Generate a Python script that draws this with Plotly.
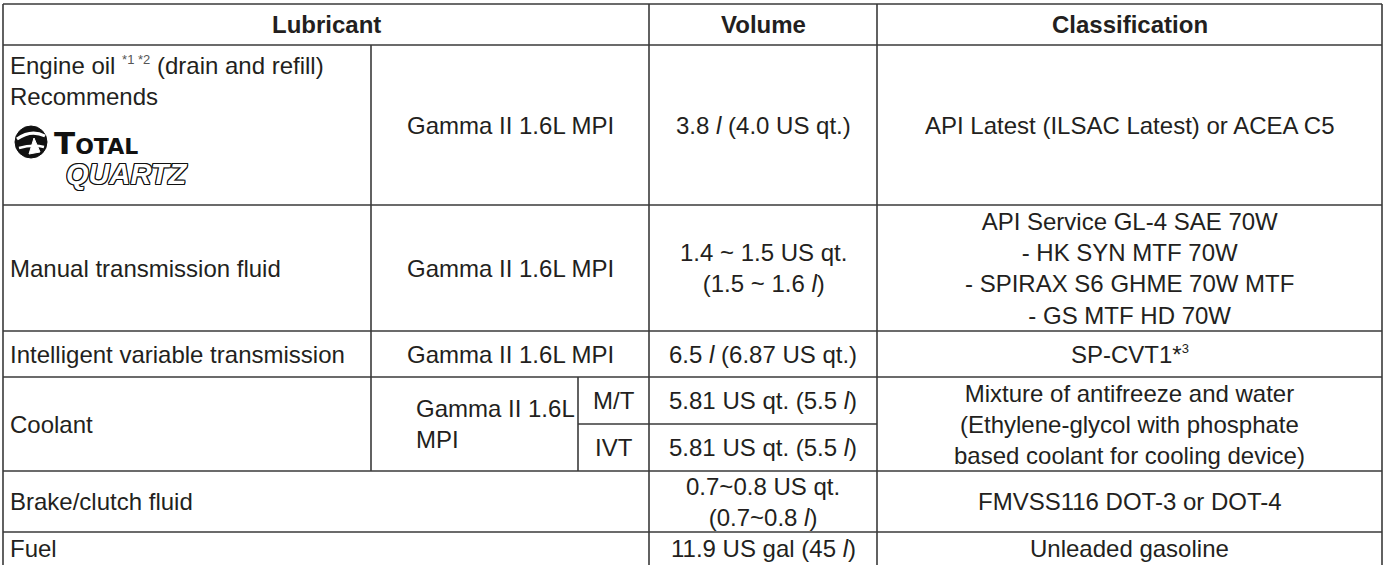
import plotly.graph_objects as go

# ---------------- data ----------------
headers = ["Lubricant", "Volume", "Classification"]
lubricants = [
    "Engine oil <sup><span style='font-size:13px;color:#555'>*1 *2</span></sup> (drain and refill)<br>Recommends",
    "Manual transmission fluid",
    "Intelligent variable transmission",
    "Coolant",
    "Brake/clutch fluid",
    "Fuel",
]
engines = ["Gamma II 1.6L MPI", "Gamma II 1.6L MPI", "Gamma II 1.6L MPI", "Gamma II 1.6L<br>MPI"]
coolant_transmissions = ["M/T", "IVT"]
volumes = [
    "3.8 <i>l</i> (4.0 US qt.)",
    "1.4 ~ 1.5 US qt.<br>(1.5 ~ 1.6 <i>l</i>)",
    "6.5 <i>l</i> (6.87 US qt.)",
    "0.7~0.8 US qt.<br>(0.7~0.8 <i>l</i>)",
    "11.9 US gal (45 <i>l</i>)",
]
coolant_volumes = ["5.81 US qt. (5.5 <i>l</i>)", "5.81 US qt. (5.5 <i>l</i>)"]
classifications = [
    "API Latest (ILSAC Latest) or ACEA C5",
    "API Service GL-4 SAE 70W<br>- HK SYN MTF 70W<br>- SPIRAX S6 GHME 70W MTF<br>- GS MTF HD 70W",
    "SP-CVT1*<sup><span style='font-size:13px'>3</span></sup>",
    "Mixture of antifreeze and water<br>(Ethylene-glycol with phosphate<br>based coolant for cooling device)",
    "FMVSS116 DOT-3 or DOT-4",
    "Unleaded gasoline",
]
logo_brand = "Total"
logo_product = "QUARTZ"

# ---------------- layout geometry ----------------
W, H = 1384, 565
X = [3, 371, 578, 649, 877, 1382]          # column edges
Y = [4, 45, 205, 331, 377, 424, 471, 532, 566]  # row edges
FONT = "Liberation Sans, Arial, Helvetica, sans-serif"
FS = 24
TXT = "#231f20"
LINE = "#3a3a3a"

fig = go.Figure()

def hline(y, x0, x1):
    fig.add_shape(type="line", x0=x0, x1=x1, y0=y, y1=y, xref="x", yref="y",
                  line=dict(color=LINE, width=1.6))

def vline(x, y0, y1):
    fig.add_shape(type="line", x0=x, x1=x, y0=y0, y1=y1, xref="x", yref="y",
                  line=dict(color=LINE, width=1.6))

# grid
for y in [Y[0], Y[1], Y[2], Y[3], Y[4], Y[6], Y[7]]:
    hline(y, X[0], X[5])
hline(Y[5], X[2], X[4])
vline(X[0], Y[0], H)
vline(X[5], Y[0], H)
vline(X[4], Y[0], H)
vline(X[3], Y[0], H)
vline(X[1], Y[1], Y[6])
vline(X[2], Y[4], Y[6])

def text(x, y, s, xanchor="center", align="center", size=FS, bold=False, **kw):
    fig.add_annotation(x=x, y=y, text=s, showarrow=False, xref="x", yref="y",
                       xanchor=xanchor, yanchor="middle", align=align,
                       font=dict(family=FONT, size=size, color=TXT,
                                 weight=700 if bold else 400), **kw)

mid = lambda a, b: (a + b) / 2

# headers
hy = mid(Y[0], Y[1])
text(mid(X[0], X[3]), hy, headers[0], bold=True)
text(mid(X[3], X[4]), hy, headers[1], bold=True)
text(mid(X[4], X[5]), hy, headers[2], bold=True)

# row vertical centres
row_mid = [mid(Y[1], Y[2]), mid(Y[2], Y[3]), mid(Y[3], Y[4]), mid(Y[4], Y[6]),
           mid(Y[6], Y[7]), mid(Y[7], H)]

# lubricant column
text(X[0] + 5, 81, lubricants[0], xanchor="left", align="left")
for i in range(1, 6):
    text(X[0] + 5, row_mid[i], lubricants[i], xanchor="left", align="left")

# engine column
for i in range(3):
    text(mid(X[1], X[3]), row_mid[i], engines[i])
text(X[1] + 43, row_mid[3], engines[3], xanchor="left", align="left")

# coolant transmissions / volumes
sub_mid = [mid(Y[4], Y[5]), mid(Y[5], Y[6])]
for i in range(2):
    text(mid(X[2], X[3]), sub_mid[i], coolant_transmissions[i])
    text(mid(X[3], X[4]), sub_mid[i], coolant_volumes[i])

# volumes
for i, r in zip(range(5), [0, 1, 2, 4, 5]):
    text(mid(X[3], X[4]), row_mid[r], volumes[i])

# classifications
for i in range(6):
    text(mid(X[4], X[5]), row_mid[i], classifications[i])

# ---------------- logo ----------------
cx, cy, r = 31, 142, 16
fig.add_shape(type="circle", x0=cx - r, x1=cx + r, y0=cy - r, y1=cy + r,
              xref="x", yref="y", fillcolor="#111", line=dict(color="#111", width=1))
fig.add_shape(type="path", path=f"M {cx-14},{cy-3} Q {cx},{cy-13} {cx+14},{cy-6}",
              xref="x", yref="y", line=dict(color="white", width=3))
fig.add_shape(type="path", path=f"M {cx-12},{cy+6} Q {cx+2},{cy+2} {cx+13},{cy+5}",
              xref="x", yref="y", line=dict(color="white", width=2.5))
fig.add_shape(type="path", path=f"M {cx-2},{cy+12} L {cx+3},{cy-4} L {cx+9},{cy+10} Z",
              xref="x", yref="y", fillcolor="white", line=dict(color="white", width=1))

fig.add_annotation(x=52, y=143, text=f"<b>{logo_brand}</b>", showarrow=False,
                   xref="x", yref="y", xanchor="left", yanchor="middle",
                   font=dict(family="DejaVu Sans, sans-serif", size=31, color="#111",
                             weight=800, variant="small-caps"))
outline = ", ".join(f"{dx}px {dy}px 0 #111" for dx, dy in
                    [(1, 1), (-1, -1), (1, -1), (-1, 1), (0, 1), (1, 0), (0, -1), (-1, 0)])
fig.add_annotation(x=64, y=174, text=logo_product, showarrow=False,
                   xref="x", yref="y", xanchor="left", yanchor="middle",
                   font=dict(family="Liberation Sans, Arial, sans-serif", size=29,
                             color="white", weight=700, style="italic", shadow=outline))

fig.update_layout(
    width=W, height=H, margin=dict(l=0, r=0, t=0, b=0),
    paper_bgcolor="white", plot_bgcolor="white", showlegend=False,
    xaxis=dict(range=[0, W], visible=False, fixedrange=True),
    yaxis=dict(range=[H, 0], visible=False, fixedrange=True),
)

fig.write_html("out.html", config={"displayModeBar": False},
               post_script="document.body.style.margin='0';")
